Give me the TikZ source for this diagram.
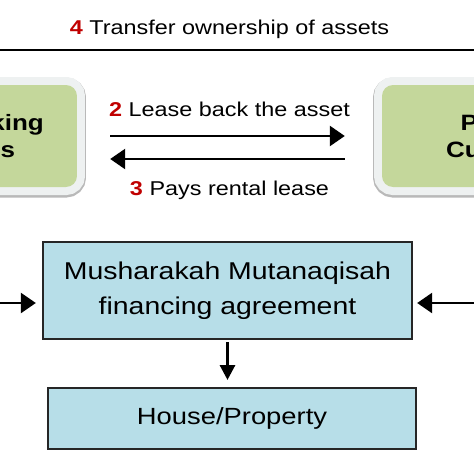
\documentclass[tikz,border=0pt]{standalone}
\usepackage{fontspec}
\setmainfont{Liberation Sans}
\usetikzlibrary{arrows.meta,positioning}
\definecolor{boxgreen}{RGB}{196,215,155}
\definecolor{boxblue}{RGB}{183,222,232}
\definecolor{halo}{RGB}{238,241,241}
\definecolor{numred}{RGB}{192,0,0}

\begin{document}
\begin{tikzpicture}[x=1pt, y=-1pt,
    lbl/.style={font=\fontsize{20}{24}\selectfont, xscale=1.17, inner sep=2pt},
    bankbox/.style={font=\fontsize{22.2}{27}\selectfont\bfseries, align=center,
      fill=boxgreen, rounded corners=11pt, minimum width=225.6pt, minimum height=102pt, xscale=1.17,
      preaction={draw=gray!55, line width=18pt, transform canvas={yshift=-1.5pt}},
      preaction={draw=halo, line width=16pt}},
    dealbox/.style={draw=black!85, line width=2pt, fill=boxblue, align=center, xscale=1.17,
      font=\fontsize{24.3}{35}\selectfont},
    flow/.style={line width=2.6pt, -{Triangle[width=20pt,length=15pt]}},
    drop/.style={line width=3pt, -{Triangle[width=15pt,length=15pt]}}]
  \path[use as bounding box, clip] (0,0) rectangle (474,474);

  \node[bankbox] (ibi) at (-55,136) {Islamic Banking\\Institutions};
  \node[bankbox] (cust) at (514,136) {Property\\Customers};
  \node[dealbox, minimum width=315.4pt, minimum height=97pt] (mma) at (227.5,290.5)
    {Musharakah Mutanaqisah\\financing agreement};
  \node[dealbox, minimum width=314.5pt, minimum height=61pt, font=\fontsize{23.4}{28}\selectfont]
    (house) at (232,418.5) {House/Property};

  \draw[flow] (ibi.north) -- ++(0,-35) -| node[lbl, pos=0.25, above=8pt]
    {{\bfseries\color{numred}4} Transfer ownership of assets} (cust.north);
  \draw[flow, shorten <=33pt, shorten >=37pt] (ibi.east) -- node[lbl, above=16pt]
    {{\bfseries\color{numred}2} Lease back the asset} (cust.west);
  \draw[flow, shorten <=37pt, shorten >=33pt] ([yshift=-23pt]cust.west) -- node[lbl, below=19pt]
    {{\bfseries\color{numred}3} Pays rental lease} ([yshift=-23pt]ibi.east);
  \draw[flow, shorten >=6pt] (ibi.south) |- ([yshift=-12.5pt]mma.west);
  \draw[flow, shorten >=4pt] (cust.south) |- ([yshift=-12.5pt]mma.east);
  \draw[drop, shorten <=2pt, shorten >=7pt] (mma.south) -- (mma.south |- house.north);
\end{tikzpicture}
\end{document}
